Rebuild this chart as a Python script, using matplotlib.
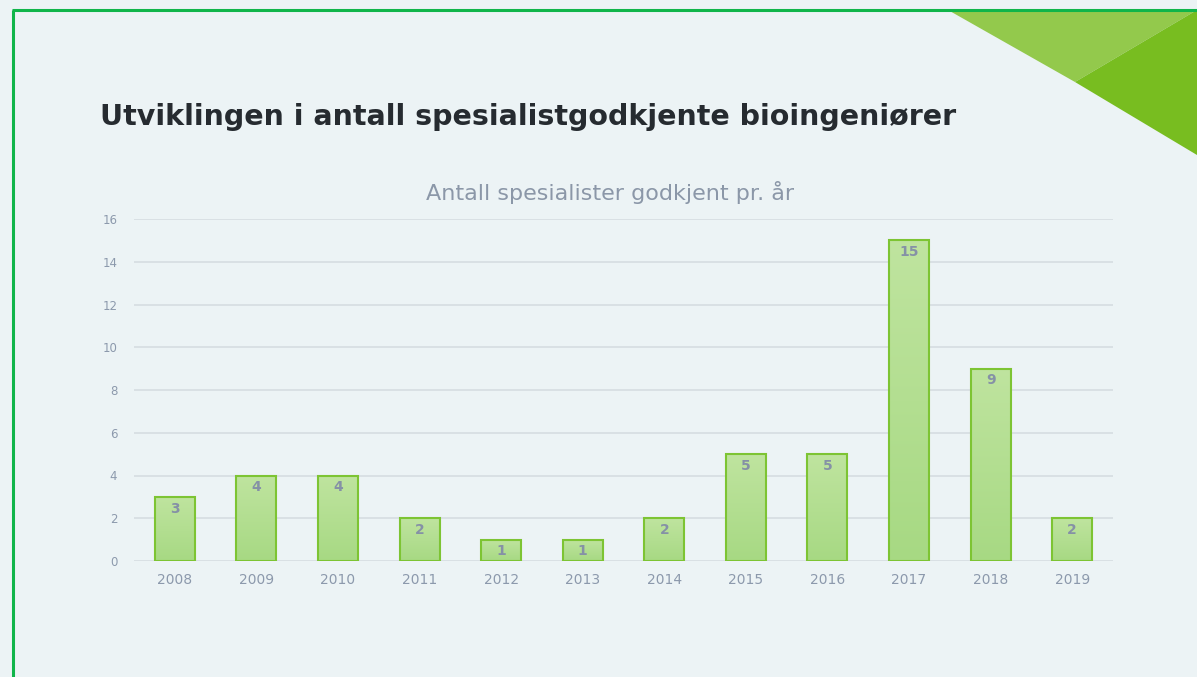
import matplotlib
matplotlib.use("Agg")
import matplotlib.pyplot as plt
import numpy as np
from matplotlib.patches import Polygon, Rectangle
from matplotlib.colors import LinearSegmentedColormap

years = ["2008", "2009", "2010", "2011", "2012", "2013", "2014",
         "2015", "2016", "2017", "2018", "2019"]
counts = [3, 4, 4, 2, 1, 1, 2, 5, 5, 15, 9, 2]
yticks = [0, 2, 4, 6, 8, 10, 12, 14, 16]

W, H = 1197, 677
fig = plt.figure(figsize=(W / 100, H / 100), dpi=100)
bg = "#ECF3F5"
fig.patch.set_facecolor(bg)

# overlay axes for decorations in pixel coords (y down)
deco = fig.add_axes([0, 0, 1, 1])
deco.set_xlim(0, W)
deco.set_ylim(H, 0)
deco.axis("off")
deco.add_patch(Polygon([(948, 10), (1197, 10), (1075, 82)], closed=True,
                       facecolor="#93C94C", edgecolor="none"))
deco.add_patch(Polygon([(1075, 82), (1197, 10), (1197, 155)], closed=True,
                       facecolor="#78BD20", edgecolor="none"))
deco.plot([12, W], [10, 10], color="#10B54A", lw=2.2, solid_capstyle="butt")
deco.plot([12.5, 12.5], [10, H], color="#10B54A", lw=2.2, solid_capstyle="butt")

fig.text(100 / W, 1 - 117 / H, "Utviklingen i antall spesialistgodkjente bioingeniører",
         fontsize=20.5, fontweight="bold", color="#262B30", va="center", ha="left",
         family="DejaVu Sans")
fig.text(610 / W, 1 - 193 / H, "Antall spesialister godkjent pr. år",
         fontsize=16, color="#8B97A8", va="center", ha="center", family="DejaVu Sans")

# main axes: x 134..1113, y 219..561 (pixel)
left, right, top, bottom = 134, 1113, 219, 561
ax = fig.add_axes([left / W, 1 - bottom / H, (right - left) / W, (bottom - top) / H])
ax.set_facecolor("none")
x = np.arange(len(years))
ax.set_xlim(-0.5, len(years) - 0.5)
ax.set_ylim(0, 16)
for s in ax.spines.values():
    s.set_visible(False)
ax.set_yticks(yticks)
ax.set_yticklabels([str(v) for v in yticks])
ax.set_xticks(x)
ax.set_xticklabels(years)
ax.tick_params(axis="both", length=0, colors="#8C99AC", labelsize=8.5)
ax.tick_params(axis="y", pad=12)
ax.tick_params(axis="x", pad=9, labelsize=10)
ax.grid(axis="y", color="#D8DEE3", lw=1.3)
ax.set_axisbelow(True)

bars = ax.bar(x, counts, width=0.49, color="none", edgecolor="#7DC433", lw=1.5, zorder=3)
grad = np.linspace(0, 1, 256).reshape(-1, 1)
cmap = LinearSegmentedColormap.from_list("g", ["#A7D983", "#BFE49F"])
for b, v in zip(bars, counts):
    x0, w = b.get_x(), b.get_width()
    im = ax.imshow(grad, extent=[x0, x0 + w, 0, v], origin="lower", cmap=cmap,
                   aspect="auto", zorder=2)
    im.set_clip_path(Rectangle((x0, 0), w, v, transform=ax.transData))
    ax.text(b.get_x() + w / 2, v - 0.22, str(v), ha="center", va="top",
            fontsize=10, fontweight="bold", color="#8591A6", zorder=4)
ax.set_xlim(-0.5, len(years) - 0.5)
ax.set_ylim(0, 16)

fig.savefig("out.png", dpi=100, facecolor=fig.get_facecolor())
